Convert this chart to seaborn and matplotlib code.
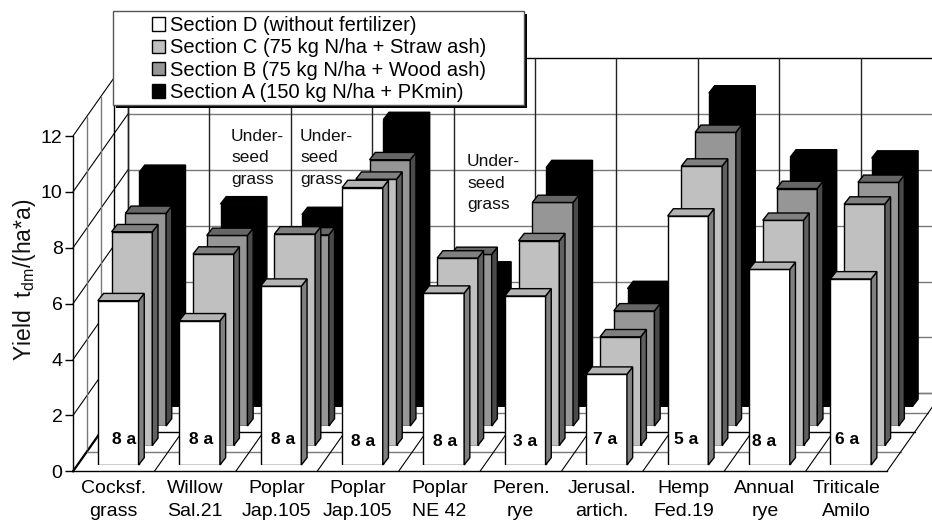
import matplotlib
matplotlib.use("Agg")
import numpy as np
import pandas as pd
import seaborn as sns
import matplotlib.pyplot as plt
from matplotlib.patches import Patch, Polygon, Rectangle

# values
crops = ["Cocksf.\ngrass", "Willow\nSal.21", "Poplar\nJap.105", "Poplar\nJap.105", "Poplar\nNE 42",
         "Peren.\nrye", "Jerusal.\nartich.", "Hemp\nFed.19", "Annual\nrye", "Triticale\nAmilo"]
section_d = [5.88, 5.16, 6.40, 9.93, 6.15, 6.05, 3.25, 8.91, 7.00, 6.66]
section_c = [7.65, 6.85, 7.57, 9.53, 6.71, 7.33, 3.89, 10.00, 8.06, 8.64]
section_b = [7.61, 6.82, 6.84, 9.53, 6.14, 8.00, 4.12, 10.51, 8.50, 8.72]
section_a = [8.38, 7.25, 6.87, 10.27, 4.92, 8.55, 4.22, 11.22, 8.93, 8.89]
bar_notes = ["8 a", "8 a", "8 a", "8 a", "8 a", "3 a", "7 a", "5 a", "8 a", "6 a"]
legend_labels = ["Section D (without fertilizer)", "Section C (75 kg N/ha + Straw ash)",
                 "Section B (75 kg N/ha + Wood ash)", "Section A (150 kg N/ha + PKmin)"]

df = pd.DataFrame({"crop": range(len(crops)), "D": section_d, "C": section_c, "B": section_b, "A": section_a})

sns.set_style("white")
plt.rcParams["font.family"] = ["Liberation Sans", "DejaVu Sans"]
plt.rcParams["mathtext.fontset"] = "custom"
plt.rcParams["mathtext.rm"] = "Liberation Sans"

W, H = 932, 522
CAT_PX, UNIT_PX = 81.4, 27.94
STEP_X, STEP_Y = 13.75, 19.5      # one series further back, in pixels
BAR_X, BAR_Y = 5.7, 7.3           # depth of one bar, in pixels

fig = plt.figure(figsize=(W / 100, H / 100), dpi=100)


def place(left, bottom, zorder):
    a = fig.add_axes([left / W, 1 - bottom / H, CAT_PX * 10 / W, UNIT_PX * 12 / H], zorder=zorder)
    a.set_xlim(-0.5, 9.5)
    a.set_ylim(0, 12)
    return a


def px_text(x, y, s, **kw):
    return fig.text(x / W, 1 - y / H, s, **kw)


# walls and floor
base = place(73, 471.3, 0)
sx, sy = STEP_X / CAT_PX, STEP_Y / UNIT_PX
grey = "#7a7a7a"
for lvl in range(0, 14, 2):
    # left wall diagonal, then back wall line
    base.plot([-0.5, -0.5 + 4 * sx], [lvl, lvl + 4 * sy], color="k", lw=1.6 if lvl == 0 else 0.8, clip_on=False)
    base.plot([-0.5 + 4 * sx, 9.5 + 4 * sx], [lvl + 4 * sy] * 2, color="k" if lvl == 12 else grey,
              lw=1, clip_on=False, zorder=1)
for k in range(1, 5):
    base.plot([-0.5 + k * sx] * 2, [k * sy, 12 + k * sy], color="k" if k > 2 else grey, lw=1, clip_on=False)
    base.plot([-0.5 + k * sx, 9.5 + k * sx], [k * sy] * 2, color="k" if k == 2 else grey, lw=1, clip_on=False)
for i in range(11):
    base.plot([i - 0.5, i - 0.5 + 4 * sx], [0, 4 * sy], color="k", lw=0.8, clip_on=False)
    base.plot([i - 0.5 + 4 * sx] * 2, [4 * sy, 12 + 4 * sy], color="#222222", lw=1, clip_on=False)

base.set_xticks(range(len(crops)))
base.set_xticklabels(crops, linespacing=1.45)
base.set_yticks(range(0, 14, 2))
base.tick_params(axis="y", left=True, length=5.5, width=1, color="k", labelsize=14, pad=2, labelcolor="k")
base.tick_params(axis="x", bottom=False, labelsize=14, pad=3, labelcolor="k")
sns.despine(ax=base)
for side in ["left", "bottom"]:
    base.spines[side].set_color("k")
    base.spines[side].set_linewidth(1)

# text sits behind the bars
for x, y in [(231, 158), (300, 158), (467, 183)]:
    px_text(x, y, "Under-\nseed\ngrass", fontsize=12.5, va="center", ha="left", linespacing=1.58, zorder=0.5, color="#111111")
px_text(25, 280, r"Yield  t$_{\mathrm{dm}}$/(ha*a)", rotation=90, fontsize=16.5, va="center", ha="center", color="#111111")

# one axes per section, back to front, each shifted into the depth
styles = [("A", "k", "k", "k"), ("B", "#969696", "#4a4a4a", "#666666"),
          ("C", "#c0c0c0", "#606060", "#808080"), ("D", "w", "#808080", "#b4b4b4")]
bx, by = BAR_X / CAT_PX, BAR_Y / UNIT_PX
for col, front, side, top in styles:
    k = "DCBA".index(col)
    a = place(77.5 + k * STEP_X, 465 - k * STEP_Y, 5 - k)
    sns.barplot(data=df, x="crop", y=col, color=front, saturation=1, width=0.5, errorbar=None,
                edgecolor="k", linewidth=1, ax=a)
    for bar in a.patches[:]:
        x0, w, h = bar.get_x(), bar.get_width(), bar.get_height()
        a.add_patch(Polygon([(x0 + w, 0), (x0 + w + bx, by), (x0 + w + bx, h + by), (x0 + w, h)],
                            facecolor=side, edgecolor="k", lw=1, clip_on=False))
        a.add_patch(Polygon([(x0, h), (x0 + bx, h + by), (x0 + w + bx, h + by), (x0 + w, h)],
                            facecolor=top, edgecolor="k", lw=1, clip_on=False))
    a.set_xlim(-0.5, 9.5)
    a.set_ylim(0, 12)
    a.axis("off")
    a.patch.set_alpha(0)
    if col == "D":
        note_shift = [0.07, 0.02, 0.02, 0.01, 0.01, 0, -0.02, -0.02, -0.06, -0.05]
        note_y = [0.9, 0.9, 0.9, 0.83, 0.83, 0.83, 0.9, 0.9, 0.83, 0.9]
        for i, s in enumerate(bar_notes):
            a.text(i + note_shift[i], note_y[i], s, ha="center", va="center", fontsize=12.5, fontweight="bold", color="k")

# legend box with its hard shadow
top_ax = fig.add_axes([0, 0, 1, 1], zorder=10)
top_ax.set_xlim(0, W)
top_ax.set_ylim(H, 0)
top_ax.axis("off")
top_ax.patch.set_alpha(0)
top_ax.add_patch(Rectangle((116, 14), 411, 93.5, facecolor="k", edgecolor="none"))
top_ax.add_patch(Rectangle((113, 11), 411, 93.5, facecolor="w", edgecolor="#555555", lw=1))
handles = [Patch(facecolor=c, edgecolor="k", lw=1) for c in ["w", "#c0c0c0", "#969696", "k"]]
top_ax.legend(handles, legend_labels, loc="upper left", bbox_to_anchor=(152 / W, 1 - 16 / H), bbox_transform=fig.transFigure,
              frameon=False, fontsize=14.5, handlelength=0.65, handleheight=0.65, handletextpad=0.25,
              labelspacing=0.17, borderaxespad=0, borderpad=0, labelcolor="k")

fig.savefig("out.png", dpi=100)
